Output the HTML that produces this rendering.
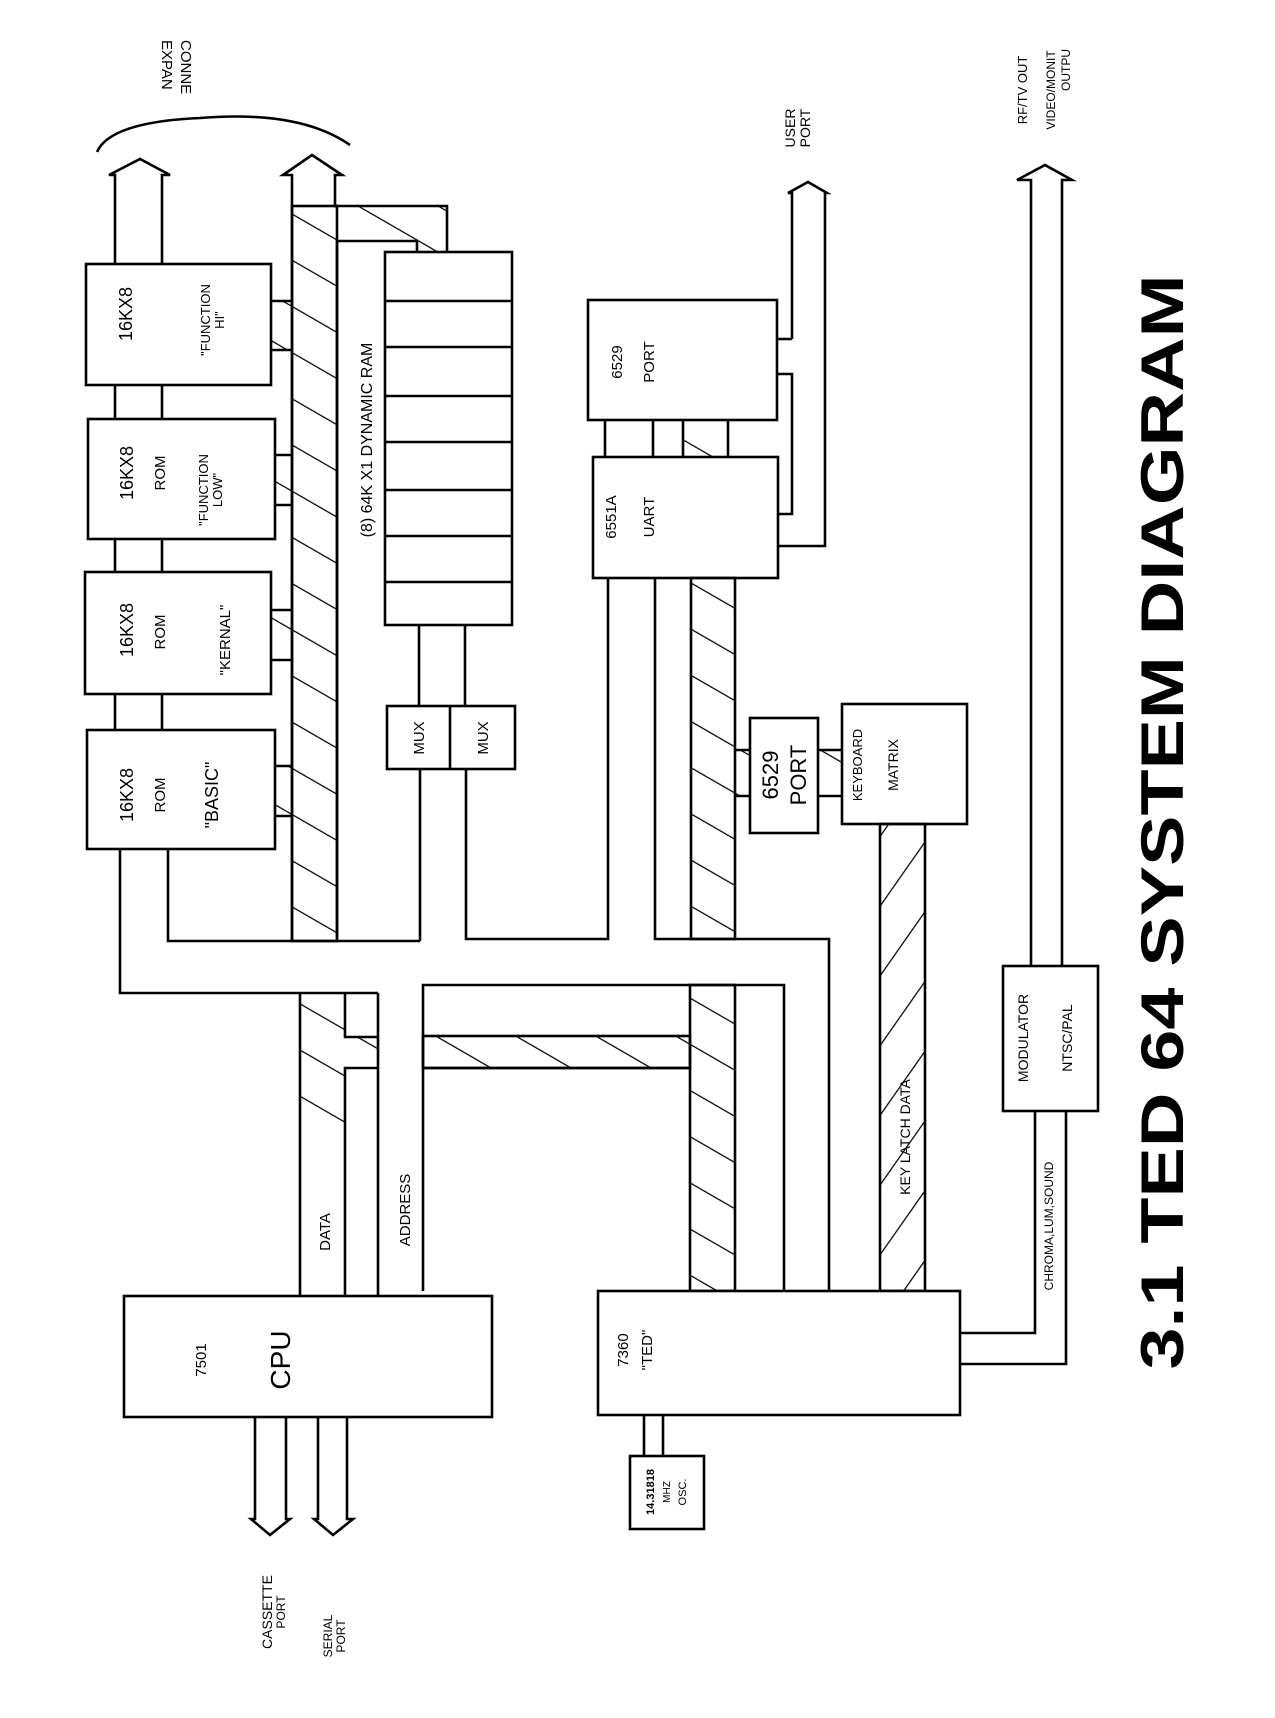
<!DOCTYPE html>
<html><head><meta charset="utf-8"><style>
html,body{margin:0;padding:0;background:#fff}
svg{display:block}
text{font-family:"Liberation Sans",sans-serif;fill:#000}
</style></head><body>
<svg width="1275" height="1718" viewBox="0 0 1275 1718" xmlns="http://www.w3.org/2000/svg">
<defs>
<pattern id="h" patternUnits="userSpaceOnUse" width="40" height="40" patternTransform="rotate(-60)">
<line x1="0" y1="0" x2="0" y2="40" stroke="#000" stroke-width="2.5"/>
</pattern>
<pattern id="h2" patternUnits="userSpaceOnUse" width="40" height="40" patternTransform="rotate(35)">
<line x1="0" y1="0" x2="0" y2="40" stroke="#000" stroke-width="2.5"/>
</pattern>
</defs>
<g stroke="#000" stroke-width="2.6" fill="none" stroke-linejoin="miter">
<path d="M97,152 Q110,122 200,118 Q300,110 350,145"/>
<path d="M115,264 V175 H109 L140,159 L170,175 H162 V264"/>
<line x1="115" y1="385" x2="115" y2="419"/><line x1="162" y1="385" x2="162" y2="419"/>
<line x1="115" y1="539" x2="115" y2="572"/><line x1="162" y1="539" x2="162" y2="572"/>
<line x1="115" y1="694" x2="115" y2="730"/><line x1="162" y1="694" x2="162" y2="730"/>
<path d="M120,849 V993 H378"/>
<path d="M168,849 V941 H420"/>
<rect x="86" y="264" width="185" height="121" fill="#fff"/>
<rect x="88" y="419" width="187" height="120" fill="#fff"/>
<rect x="85" y="572" width="186" height="122" fill="#fff"/>
<rect x="87" y="730" width="188" height="119" fill="#fff"/>
<rect x="292" y="206" width="45" height="735" fill="url(#h)"/>
<path d="M292,264 V175 H283 L312,155 L342,175 H335 V206 H447 V252"/>
<line x1="292" y1="264" x2="292" y2="941"/>
<line x1="337" y1="241" x2="337" y2="941"/>
<polygon points="337,206 447,206 447,252 417,252 417,241 337,241" fill="url(#h)" stroke="none"/>
<path d="M337,241 H417 V252"/>
<rect x="271" y="301" width="21" height="49" fill="url(#h)" stroke="none"/>
<path d="M271,301 H292 M271,350 H292"/>
<rect x="275" y="455" width="17" height="50" fill="url(#h)" stroke="none"/>
<path d="M275,455 H292 M275,505 H292"/>
<rect x="271" y="610" width="21" height="50" fill="url(#h)" stroke="none"/>
<path d="M271,610 H292 M271,660 H292"/>
<rect x="275" y="766" width="17" height="50" fill="url(#h)" stroke="none"/>
<path d="M275,766 H292 M275,816 H292"/>
<rect x="385" y="252" width="127" height="373" fill="#fff"/>
<path d="M385,301 H512 M385,347 H512 M385,396 H512 M385,442 H512 M385,490 H512 M385,536 H512 M385,582 H512"/>
<line x1="419" y1="625" x2="419" y2="706"/><line x1="465" y1="625" x2="465" y2="706"/>
<rect x="387" y="706" width="128" height="63"/><line x1="450" y1="706" x2="450" y2="769"/>
<line x1="420" y1="769" x2="420" y2="941"/>
<path d="M466,769 V939 H608 V578"/>
<rect x="588" y="300" width="189" height="120"/>
<rect x="593" y="457" width="185" height="121"/>
<rect x="683" y="420" width="45" height="37" fill="url(#h)" stroke="none"/>
<path d="M605,420 V457 M653,420 V457 M683,420 V457 M728,420 V457"/>
<path d="M792,339 V193 H788 L808,182 L827,193 H825 V546 H778"/>
<path d="M777,339 H792 M777,374 H792 V514 H778"/>
<path d="M655,578 V939 H829 V1291"/>
<rect x="691" y="578" width="44" height="361" fill="url(#h)"/>
<rect x="735" y="750" width="15" height="46" fill="url(#h)" stroke="none"/>
<path d="M735,750 H750 M735,796 H750"/>
<rect x="750" y="718" width="68" height="115"/>
<rect x="818" y="750" width="24" height="46" fill="url(#h)" stroke="none"/>
<path d="M818,750 H842 M818,796 H842"/>
<rect x="842" y="704" width="125" height="120"/>
<rect x="880" y="824" width="45" height="467" fill="url(#h2)"/>
<path d="M423,1291 V1036 M423,1036 V985 H784 V1291"/>
<rect x="423" y="1036" width="267" height="32" fill="url(#h)"/>
<rect x="690" y="985" width="45" height="306" fill="url(#h)"/>
<path d="M423,1068 H690"/>
<line x1="378" y1="993" x2="378" y2="1296"/>
<line x1="300" y1="993" x2="300" y2="1296"/>
<path d="M345,993 V1037 H378 M345,1296 V1068 H378"/>
<rect x="300" y="993" width="45" height="130" fill="url(#h)" stroke="none"/>
<rect x="345" y="1037" width="33" height="31" fill="url(#h)" stroke="none"/>
<rect x="124" y="1296" width="368" height="121" fill="#fff"/>
<path d="M255,1417 V1519 H251 L270,1535 L290,1519 H286 V1417"/>
<path d="M318,1417 V1519 H314 L333,1535 L353,1519 H347 V1417"/>
<rect x="598" y="1291" width="362" height="124" fill="#fff"/>
<path d="M644,1415 V1456 M663,1415 V1456"/>
<rect x="630" y="1456" width="74" height="73"/>
<path d="M960,1333 H1035 V1111 M960,1364 H1066 V1111"/>
<rect x="1003" y="966" width="95" height="145"/>
<path d="M1031,966 V180 H1017 L1045,165 L1072,180 H1062 V966"/>
</g>
<g font-size="15">
<text transform="translate(162,40) rotate(90)">EXPAN</text>
<text transform="translate(181,40) rotate(90)">CONNE</text>
<text transform="translate(132,314) rotate(-90)" text-anchor="middle" font-size="18">16KX8</text>
<text transform="translate(210,320) rotate(-90)" text-anchor="middle" font-size="13">"FUNCTION</text>
<text transform="translate(224,320) rotate(-90)" text-anchor="middle" font-size="13">HI"</text>
<text transform="translate(133,473) rotate(-90)" text-anchor="middle" font-size="18">16KX8</text>
<text transform="translate(165,473) rotate(-90)" text-anchor="middle">ROM</text>
<text transform="translate(208,490) rotate(-90)" text-anchor="middle" font-size="13">"FUNCTION</text>
<text transform="translate(222,490) rotate(-90)" text-anchor="middle" font-size="13">LOW"</text>
<text transform="translate(133,630) rotate(-90)" text-anchor="middle" font-size="18">16KX8</text>
<text transform="translate(165,632) rotate(-90)" text-anchor="middle">ROM</text>
<text transform="translate(230,640) rotate(-90)" text-anchor="middle">"KERNAL"</text>
<text transform="translate(133,795) rotate(-90)" text-anchor="middle" font-size="18">16KX8</text>
<text transform="translate(165,795) rotate(-90)" text-anchor="middle">ROM</text>
<text transform="translate(218,795) rotate(-90)" text-anchor="middle" font-size="18">"BASIC"</text>
<text transform="translate(372,440) rotate(-90)" text-anchor="middle" font-size="16">(8)   64K X1 DYNAMIC RAM</text>
<text transform="translate(424,738) rotate(-90)" text-anchor="middle">MUX</text>
<text transform="translate(488,738) rotate(-90)" text-anchor="middle">MUX</text>
<text transform="translate(795,128) rotate(-90)" text-anchor="middle" font-size="14">USER</text>
<text transform="translate(810,128) rotate(-90)" text-anchor="middle" font-size="14">PORT</text>
<text transform="translate(622,362) rotate(-90)" text-anchor="middle">6529</text>
<text transform="translate(654,362) rotate(-90)" text-anchor="middle">PORT</text>
<text transform="translate(616,517) rotate(-90)" text-anchor="middle">6551A</text>
<text transform="translate(654,517) rotate(-90)" text-anchor="middle">UART</text>
<text transform="translate(778,775) rotate(-90)" text-anchor="middle" font-size="22">6529</text>
<text transform="translate(806,775) rotate(-90)" text-anchor="middle" font-size="22">PORT</text>
<text transform="translate(862,765) rotate(-90)" text-anchor="middle" font-size="13">KEYBOARD</text>
<text transform="translate(898,765) rotate(-90)" text-anchor="middle" font-size="14">MATRIX</text>
<text transform="translate(910,1137) rotate(-90)" text-anchor="middle" font-size="14">KEY LATCH DATA</text>
<text transform="translate(330,1232) rotate(-90)" text-anchor="middle">DATA</text>
<text transform="translate(410,1210) rotate(-90)" text-anchor="middle">ADDRESS</text>
<text transform="translate(206,1360) rotate(-90)" text-anchor="middle">7501</text>
<text transform="translate(290,1360) rotate(-90)" text-anchor="middle" font-size="28">CPU</text>
<text transform="translate(628,1350) rotate(-90)" text-anchor="middle">7360</text>
<text transform="translate(652,1350) rotate(-90)" text-anchor="middle">"TED"</text>
<text transform="translate(654,1492) rotate(-90)" text-anchor="middle" font-size="11" font-weight="bold">14.31818</text>
<text transform="translate(670,1492) rotate(-90)" text-anchor="middle" font-size="10">MHZ</text>
<text transform="translate(686,1492) rotate(-90)" text-anchor="middle" font-size="11">OSC.</text>
<text transform="translate(272,1612) rotate(-90)" text-anchor="middle" font-size="14">CASSETTE</text>
<text transform="translate(285,1612) rotate(-90)" text-anchor="middle" font-size="12">PORT</text>
<text transform="translate(332,1636) rotate(-90)" text-anchor="middle" font-size="12">SERIAL</text>
<text transform="translate(345,1636) rotate(-90)" text-anchor="middle" font-size="12">PORT</text>
<text transform="translate(1053,1226) rotate(-90)" text-anchor="middle" font-size="12">CHROMA,LUM,SOUND</text>
<text transform="translate(1028,1038) rotate(-90)" text-anchor="middle" font-size="14">MODULATOR</text>
<text transform="translate(1072,1038) rotate(-90)" text-anchor="middle" font-size="14">NTSC/PAL</text>
<text transform="translate(1027,90) rotate(-90)" text-anchor="middle" font-size="13">RF/TV OUT</text>
<text transform="translate(1055,90) rotate(-90)" text-anchor="middle" font-size="12">VIDEO/MONIT</text>
<text transform="translate(1070,70) rotate(-90)" text-anchor="middle" font-size="12">OUTPU</text>
</g>
<text transform="translate(1183,822) rotate(-90)" text-anchor="middle" font-size="60" font-weight="bold" textLength="1095" lengthAdjust="spacingAndGlyphs">3.1 TED 64  SYSTEM DIAGRAM</text>
</svg>
</body></html>
